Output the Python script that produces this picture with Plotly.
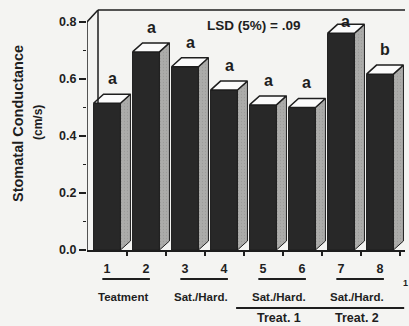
import plotly.graph_objects as go

# ---- data ----
categories = ["1", "2", "3", "4", "5", "6", "7", "8"]
conductance = [0.515, 0.695, 0.643, 0.561, 0.509, 0.500, 0.760, 0.617]
letters = ["a", "a", "a", "a", "a", "a", "a", "b"]
group_labels = ["Teatment", "Sat./Hard.", "Sat./Hard.", "Sat./Hard."]
treat_labels = ["Treat. 1", "Treat. 2"]
y_ticks = [0.0, 0.2, 0.4, 0.6, 0.8]
lsd_text = "LSD (5%) = .09"

# ---- geometry (style) ----
xpos = list(range(1, len(categories) + 1))
bar_w = 0.69
ddx, ddy = 0.256, 0.0316          # bar depth offset
x_min, x_max = 0.487, 8.641
y_top = 0.856
wall_dx, wall_dy = 0.282, 0.042   # back wall offset
ink = "#1e1e1e"
bg = "#f4f4f2"
FONT = "Liberation Sans"

W, H = 409, 326
L, R, T, B = 87, 4, 6, 76
pw, ph = W - L - R, H - T - B

def px_x(p):
    return (p - L) / pw

def px_y(p):
    return (H - B - p) / ph

def dx_paper(x):
    return (x - x_min) / (x_max - x_min)

fig = go.Figure()

# front faces
fig.add_trace(go.Bar(
    x=xpos, y=conductance, width=bar_w,
    marker=dict(color="#282828", line=dict(color=ink, width=1)),
    hoverinfo="skip", showlegend=False))

# side and top faces
sx, sy, tx, ty = [], [], [], []
for x, v in zip(xpos, conductance):
    r = x + bar_w / 2
    l = x - bar_w / 2
    sx += [r, r + ddx, r + ddx, r, r, None]
    sy += [0, ddy, v + ddy, v, 0, None]
    tx += [l, l + ddx, r + ddx, r, l, None]
    ty += [v, v + ddy, v + ddy, v, v, None]
fig.add_trace(go.Scatter(x=sx, y=sy, mode="lines", fill="toself",
                         fillcolor="#a6a6a4",
                         fillpattern=dict(shape=".", fgcolor="#8c8c8a", bgcolor="#acacaa",
                                          size=3, solidity=0.15),
                         line=dict(color=ink, width=1),
                         hoverinfo="skip", showlegend=False))
fig.add_trace(go.Scatter(x=tx, y=ty, mode="lines", fill="toself",
                         fillcolor="#fbfbfb", line=dict(color=ink, width=1.5),
                         hoverinfo="skip", showlegend=False))

# significance letters
for x, v, t in zip(xpos, conductance, letters):
    fig.add_annotation(x=x + ddx / 2, y=min(v + ddy + 0.055, 0.80), text=t,
                       showarrow=False, xanchor="center", yanchor="middle",
                       font=dict(family=FONT, size=16, color=ink, weight="bold"))

# frame lines: y axis, slanted top, back wall
line = dict(color=ink, width=1.5)
wx = x_min + wall_dx
fig.add_shape(type="line", x0=x_min, y0=0, x1=x_min, y1=0.8, line=line)
fig.add_shape(type="line", x0=x_min, y0=0.8, x1=wx, y1=0.8 + wall_dy, line=line)
fig.add_shape(type="line", x0=wx, y0=0.8 + wall_dy, x1=x_max, y1=0.8 + wall_dy, line=line)
fig.add_shape(type="line", x0=wx, y0=0.8 + wall_dy, x1=wx, y1=conductance[0], line=line)

# LSD label
fig.add_annotation(x=px_x(253), y=px_y(25), xref="paper", yref="paper", text=lsd_text,
                   showarrow=False, xanchor="center", yanchor="middle",
                   font=dict(family=FONT, size=13.5, color=ink, weight="bold"))

# pair underlines and group labels
under = dict(color=ink, width=2)
for i, g in enumerate(group_labels):
    a, b = xpos[2 * i], xpos[2 * i + 1]
    fig.add_shape(type="line", xref="paper", yref="paper",
                  x0=dx_paper(a - 0.12), x1=dx_paper(b + 0.1),
                  y0=px_y(279), y1=px_y(279), line=under)
    fig.add_annotation(x=dx_paper((a + b) / 2 - 0.1), y=px_y(297), xref="paper", yref="paper",
                       text=g, showarrow=False, xanchor="center", yanchor="middle",
                       font=dict(family=FONT, size=11.5, color=ink, weight="bold"))

fig.add_shape(type="line", xref="paper", yref="paper",
              x0=dx_paper(4.31), x1=dx_paper(8.62),
              y0=px_y(308), y1=px_y(308), line=under)
for i, t in enumerate(treat_labels):
    a, b = xpos[4 + 2 * i], xpos[5 + 2 * i]
    fig.add_annotation(x=dx_paper((a + b) / 2 - 0.1), y=px_y(318), xref="paper", yref="paper",
                       text=t, showarrow=False, xanchor="center", yanchor="middle",
                       font=dict(family=FONT, size=12.5, color=ink, weight="bold"))
fig.add_annotation(x=px_x(405), y=px_y(283), xref="paper", yref="paper", text="1",
                   showarrow=False, xanchor="center", yanchor="middle",
                   font=dict(family=FONT, size=9, color=ink, weight="bold"))

# y axis titles
fig.add_annotation(x=px_x(18), y=px_y(124), xref="paper", yref="paper",
                   text="Stomatal Conductance", showarrow=False, textangle=-90,
                   xanchor="center", yanchor="middle",
                   font=dict(family=FONT, size=14.5, color=ink, weight="bold"))
fig.add_annotation(x=px_x(38), y=px_y(123), xref="paper", yref="paper",
                   text="(cm/s)", showarrow=False, textangle=-90,
                   xanchor="center", yanchor="middle",
                   font=dict(family=FONT, size=12, color=ink, weight="bold"))

fig.update_layout(
    width=W, height=H, margin=dict(l=L, r=R, t=T, b=B),
    paper_bgcolor=bg, plot_bgcolor=bg, barmode="overlay",
    xaxis=dict(range=[x_min, x_max], tickvals=xpos, ticktext=categories,
               ticks="", showline=True, linecolor=ink, linewidth=1.5,
               showgrid=False, zeroline=False, ticklabelstandoff=6,
               tickfont=dict(family=FONT, size=12.5, color=ink, weight="bold"),
               minor=dict(tickvals=[x + 0.5 for x in xpos], ticks="outside",
                          ticklen=4, tickcolor=ink, tickwidth=1.5)),
    yaxis=dict(range=[0, y_top], tickvals=y_ticks, tickformat=".1f",
               ticks="outside", ticklen=7, tickwidth=1.5, tickcolor=ink,
               showline=False, showgrid=False, zeroline=False,
               tickfont=dict(family=FONT, size=12.5, color=ink, weight="bold"),
               minor=dict(dtick=0.1, ticks="outside", ticklen=3,
                          tickcolor=ink, tickwidth=1)),
)

fig.write_html("out.html")
